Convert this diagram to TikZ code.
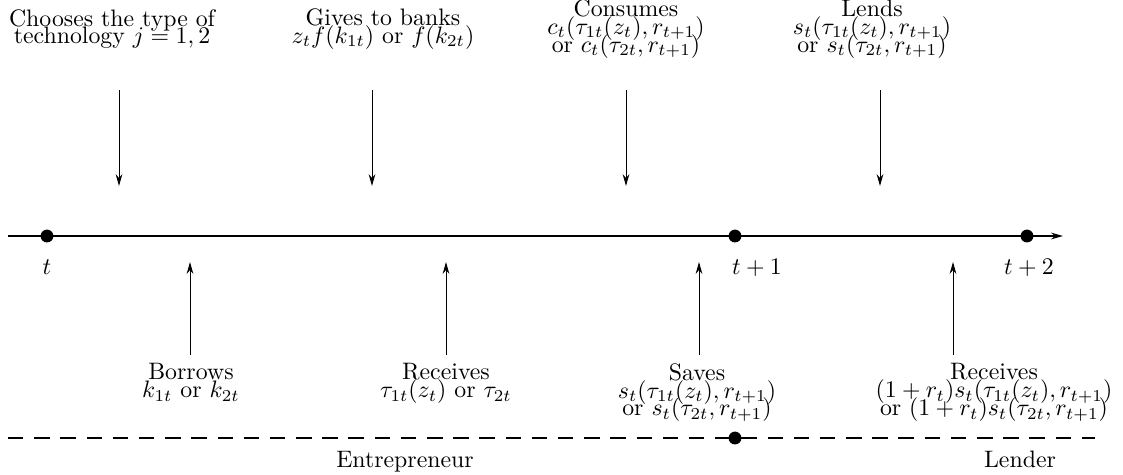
\documentclass[tikz,border=0pt]{standalone}
\usepackage{amsmath}
\usetikzlibrary{positioning, arrows.meta}
\newcommand{\tightlines}{\fontsize{10}{7.5}\selectfont\lineskiplimit=-20pt\relax}
\tikzset{
  lbl/.style={align=center, font=\tightlines, inner sep=0pt},
  dot/.style={circle, fill, inner sep=0pt, minimum size=5.4pt},
  arr/.style={-{Stealth[length=5pt, width=2.8pt]}, thin},
  axis/.style={-{Stealth[length=5pt, width=2.8pt]}, line width=0.8pt},
  split/.style={dashed, dash pattern=on 6.5pt off 4.5pt, line width=0.6pt}
}
\begin{document}
\begin{tikzpicture}[x=0.42pt, y=-0.42pt]
\useasboundingbox (0,0) rectangle (1123,474);
% time axis
\coordinate (ax0) at (8,236);
\coordinate (ax1) at (1063,236);
\draw[axis] (ax0) -- (ax1);
\node[dot] (p0) at (47,236) {};
\node[dot] (p1) at (735,236) {};
\node[dot] (p2) at (1027,236) {};
\node[lbl, anchor=base] (lt0) at (47,274) {$t$};
\node[lbl, anchor=base] (lt1) at (757,274) {$t+1$};
\node[lbl, anchor=base] (lt2) at (1029,274) {$t+2$};
% entrepreneur / lender
\coordinate (sp0) at (8,438);
\coordinate (sp1) at (1095,438);
\draw[split] (sp0) -- (sp1);
\node[dot] (q1) at (735,438) {};
\node[lbl, anchor=base] (ent) at (405,467) {Entrepreneur};
\node[lbl, anchor=base] (lnd) at (1020,467) {Lender};
% events above the axis
\node[lbl] (choose) at (112,29) {Chooses the type of\\technology $j=1,2$};
\node[lbl] (give) at (383,29) {Gives to banks\\$z_tf(k_{1t})$ or $f(k_{2t})$};
\node[lbl] (cons) at (626,29) {Consumes\\$c_t(\tau_{1t}(z_t),r_{t+1})$\\or $c_t(\tau_{2t},r_{t+1})$};
\node[lbl] (lend) at (872,29) {Lends\\$s_t(\tau_{1t}(z_t),r_{t+1})$\\or $s_t(\tau_{2t},r_{t+1})$};
\foreach \n/\x in {a/119, b/372, c/626, d/880} {
  \coordinate (\n0) at (\x,90);
  \coordinate (\n1) at (\x,186);
  \draw[arr] (\n0) -- (\n1);
}
% events below the axis
\node[lbl, anchor=north] (borrow) at (191,363) {Borrows\\$k_{1t}$ or $k_{2t}$};
\node[lbl, anchor=north] (recv) at (446,363) {Receives\\$\tau_{1t}(z_t)$ or $\tau_{2t}$};
\node[lbl, anchor=north] (save) at (697,363) {Saves\\$s_t(\tau_{1t}(z_t),r_{t+1})$\\or $s_t(\tau_{2t},r_{t+1})$};
\node[lbl, anchor=north] (repay) at (994,363) {Receives\\$(1+r_t)s_t(\tau_{1t}(z_t),r_{t+1})$\\or $(1+r_t)s_t(\tau_{2t},r_{t+1})$};
\foreach \n/\x in {e/190, f/446, g/699, h/953} {
  \coordinate (\n0) at (\x,355);
  \coordinate (\n1) at (\x,262);
  \draw[arr] (\n0) -- (\n1);
}
\end{tikzpicture}
\end{document}
